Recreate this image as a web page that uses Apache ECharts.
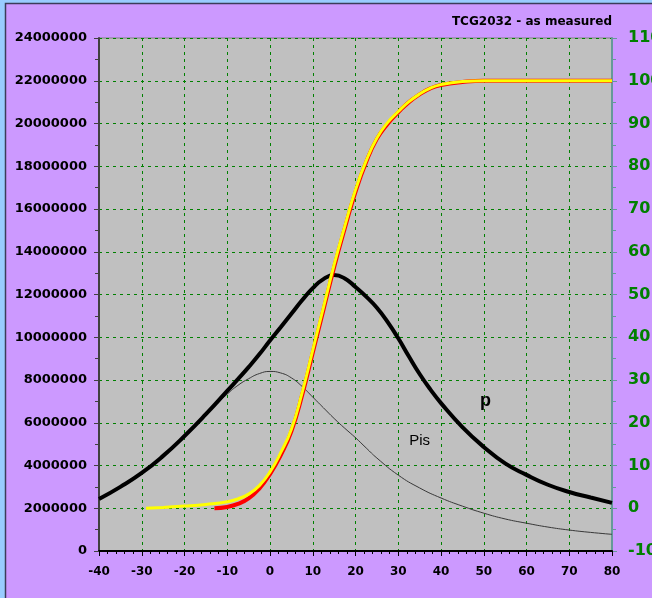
<!DOCTYPE html>
<html>
<head>
<meta charset="utf-8">
<script src="https://cdn.jsdelivr.net/npm/echarts@6/dist/echarts.min.js"></script>
<style>
  html, body { margin: 0; padding: 0; background: #99ccff; }
  #chart { width: 652px; height: 598px; }
</style>
</head>
<body>
<div id="chart"></div>
<script>
// Temperature axis (deg C)
const xTicks = { min: -40, max: 80, step: 10 };
const leftTicks = { min: 0, max: 24000000, step: 2000000 };
const rightTicks = { min: -10, max: 110, step: 10 };

// p curve (left axis)
const pX = [-40, -35, -30, -25, -20, -15, -10, -7.5, -5, -2.5, 0, 2.5, 5, 7.5, 10, 12.5, 15, 17.5, 20, 22.5, 25, 27.5, 30, 32.5, 35, 37.5, 40, 45, 50, 55, 60, 65, 70, 75, 80];
const pValues = [2430000, 3000000, 3650000, 4450000, 5380000, 6400000, 7490000, 8040000, 8600000, 9200000, 9850000, 10470000, 11100000, 11730000, 12300000, 12720000, 12910000, 12750000, 12350000, 11900000, 11380000, 10720000, 9950000, 9100000, 8280000, 7560000, 6920000, 5800000, 4870000, 4100000, 3560000, 3100000, 2760000, 2500000, 2250000];

// Pis curve (left axis)
const pisX = [-40, -35, -30, -25, -20, -15, -12.5, -10, -7.5, -5, -2.5, 0, 2.5, 5, 7.5, 10, 12.5, 15, 17.5, 20, 22.5, 25, 30, 35, 40, 45, 50, 55, 60, 65, 70, 75, 80];
const pisValues = [2430000, 3000000, 3650000, 4450000, 5380000, 6380000, 6870000, 7340000, 7750000, 8060000, 8300000, 8400000, 8330000, 8100000, 7700000, 7200000, 6700000, 6200000, 5740000, 5300000, 4820000, 4350000, 3550000, 2950000, 2480000, 2100000, 1770000, 1500000, 1300000, 1120000, 980000, 870000, 780000];

// Measured cumulative percentage (right axis)
const measuredX = [-13, -10, -7.5, -5, -2.5, 0, 2.5, 5, 7.5, 10, 12.5, 15, 17.5, 20, 22.5, 25, 27.5, 30, 32.5, 35, 37.5, 40, 45, 50, 55, 60, 65, 70, 75, 80];
const measuredPct = [0, 0.3, 1.0, 2.3, 4.6, 8.0, 12.4, 18.0, 26.4, 36.4, 46.4, 56.4, 65.5, 74.0, 81.0, 86.4, 89.9, 92.6, 95.0, 96.8, 98.2, 99.0, 99.7, 100, 100, 100, 100, 100, 100, 100];

// Fitted cumulative percentage (right axis)
const fittedX = [-29, -25, -20, -15, -10, -7.5, -5, -2.5, 0, 2.5, 5, 7.5, 10, 12.5, 15, 17.5, 20, 22.5, 25, 27.5, 30, 32.5, 35, 37.5, 40, 45, 50, 55, 60, 65, 70, 75, 80];
const fittedPct = [0, 0.2, 0.5, 0.9, 1.5, 2.2, 3.3, 5.3, 8.5, 13.0, 18.5, 27.0, 37.0, 47.0, 57.0, 66.0, 74.5, 81.3, 86.6, 90.2, 92.8, 95.1, 96.9, 98.3, 99.1, 99.8, 100, 100, 100, 100, 100, 100, 100];

const titleText = 'TCG2032 - as measured';

function pairs(xs, ys) { return xs.map((x, i) => [x, ys[i]]); }

const chart = echarts.init(document.getElementById('chart'), null, { renderer: 'canvas' });

const tickFont = '"DejaVu Sans", Verdana, sans-serif';
const noteFont = 'Arial, "Liberation Sans", sans-serif';

chart.setOption({
  animation: false,
  backgroundColor: '#99ccff',
  graphic: [{
    type: 'rect',
    z: -10,
    silent: true,
    shape: { x: 5.5, y: 3.5, width: 700, height: 700 },
    style: { fill: '#cc99ff', stroke: '#3c3c5a', lineWidth: 1.5 }
  }],
  title: {
    text: titleText,
    right: 35,
    top: 11,
    textStyle: { fontFamily: tickFont, fontSize: 12, fontWeight: 'bold', color: '#000' }
  },
  grid: {
    left: 99, right: 40, top: 38, bottom: 47,
    outerBoundsMode: 'none',
    containLabel: false,
    show: true, backgroundColor: '#c0c0c0', borderColor: '#808080', borderWidth: 1
  },
  xAxis: {
    type: 'value',
    min: xTicks.min, max: xTicks.max, interval: xTicks.step,
    axisLine: { show: true, onZero: false, lineStyle: { color: '#000', width: 2 } },
    axisTick: { show: true, length: 5, lineStyle: { color: '#000', width: 1 } },
    minorTick: { show: true, splitNumber: 5, length: 3, lineStyle: { color: '#000', width: 1 } },
    splitLine: { show: true, lineStyle: { color: '#008000', width: 1, type: [3, 4] } },
    axisLabel: { color: '#000', fontFamily: tickFont, fontWeight: 'bold', fontSize: 12, margin: 15 }
  },
  yAxis: [{
    type: 'value',
    position: 'left',
    min: leftTicks.min, max: leftTicks.max, interval: leftTicks.step,
    axisLine: { show: true, onZero: false, lineStyle: { color: '#404040', width: 2 } },
    axisTick: { show: true, length: 5, lineStyle: { color: '#404040', width: 1 } },
    minorTick: { show: true, splitNumber: 2, length: 4, lineStyle: { color: '#404040', width: 1 } },
    splitLine: { show: true, lineStyle: { color: '#008000', width: 1, type: [3, 4] } },
    axisLabel: {
      color: '#000', fontFamily: tickFont, fontWeight: 'bold', fontSize: 13, margin: 12,
      formatter: v => String(v)
    }
  }, {
    type: 'value',
    position: 'right',
    min: rightTicks.min, max: rightTicks.max, interval: rightTicks.step,
    axisLine: { show: true, onZero: false, lineStyle: { color: '#669999', width: 2 } },
    axisTick: { show: true, length: 5, lineStyle: { color: '#669999', width: 1 } },
    minorTick: { show: true, splitNumber: 2, length: 4, lineStyle: { color: '#669999', width: 1 } },
    splitLine: { show: false },
    axisLabel: { color: '#008000', fontFamily: tickFont, fontWeight: 'bold', fontSize: 16, margin: 16 }
  }],
  series: [{
    name: 'Pis',
    type: 'line',
    yAxisIndex: 0,
    data: pairs(pisX, pisValues),
    smooth: 0.5,
    symbol: 'none',
    lineStyle: { color: '#383838', width: 1 },
    markPoint: {
      symbol: 'circle', symbolSize: 1,
      itemStyle: { color: 'rgba(0,0,0,0)' },
      data: [{ coord: [35.0, 5130000], value: 'Pis' }],
      label: { show: true, position: 'inside', formatter: 'Pis', color: '#000', fontFamily: noteFont, fontSize: 15 }
    }
  }, {
    name: 'p',
    type: 'line',
    yAxisIndex: 0,
    data: pairs(pX, pValues),
    smooth: 0.5,
    symbol: 'none',
    lineStyle: { color: '#000', width: 4 },
    markPoint: {
      symbol: 'circle', symbolSize: 1,
      itemStyle: { color: 'rgba(0,0,0,0)' },
      data: [{ coord: [50.4, 7030000], value: 'p' }],
      label: { show: true, position: 'inside', formatter: 'p', color: '#000', fontFamily: noteFont, fontWeight: 'bold', fontSize: 18 }
    }
  }, {
    name: 'measured',
    type: 'line',
    yAxisIndex: 1,
    data: pairs(measuredX, measuredPct),
    smooth: 0.5,
    symbol: 'none',
    lineStyle: { color: '#ff0000', width: 4 }
  }, {
    name: 'fitted',
    type: 'line',
    yAxisIndex: 1,
    data: pairs(fittedX, fittedPct),
    smooth: 0.5,
    symbol: 'none',
    lineStyle: { color: '#ffff00', width: 3 }
  }]
});
</script>
</body>
</html>
